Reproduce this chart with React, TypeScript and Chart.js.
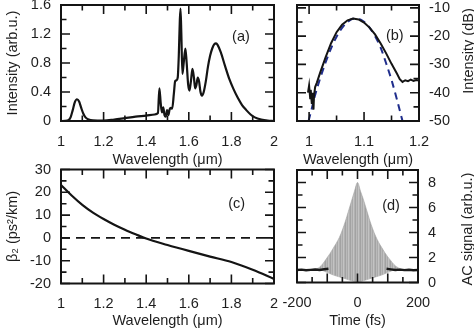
import React, { useEffect, useRef } from "react";
import { Chart, registerables } from "chart.js";

Chart.register(...registerables);

const PAGE_W = 474;
const PAGE_H = 329;
const FONT_FAMILY = "'Liberation Sans', Arial, Helvetica, sans-serif";
const FONT_SIZE = 14.5;
const TEXT_COLOR = "#1e1e1e";
const INK = "#141414";

// ---------------- (a) supercontinuum spectrum ----------------
const aWavelength = [
  1.0, 1.03, 1.045, 1.055, 1.065, 1.075, 1.085, 1.095, 1.105, 1.115, 1.13, 1.15, 1.2, 1.25, 1.3, 1.35, 1.4, 1.44,
  1.455, 1.462, 1.468, 1.474, 1.48, 1.486, 1.492, 1.498, 1.504, 1.51, 1.516, 1.522, 1.53, 1.536, 1.542, 1.548,
  1.553, 1.558, 1.561, 1.565, 1.57, 1.576, 1.584, 1.59, 1.597, 1.603, 1.61, 1.617, 1.624, 1.63, 1.636, 1.642,
  1.648, 1.655, 1.662, 1.67, 1.68, 1.69, 1.7, 1.71, 1.72, 1.728, 1.735, 1.75, 1.77, 1.79, 1.81, 1.83, 1.85,
  1.87, 1.89, 1.91, 1.94, 1.97, 2.0,
];
const aIntensity = [
  0, 0.005, 0.05, 0.15, 0.26, 0.3, 0.27, 0.18, 0.1, 0.05, 0.02, 0.008, 0.005, 0.02, 0.04, 0.06, 0.075, 0.09,
  0.11, 0.45, 0.25, 0.12, 0.19, 0.08, 0.06, 0.15, 0.08, 0.16, 0.18, 0.17, 0.38, 0.55, 0.56, 0.6,
  0.9, 1.4, 1.55, 1.2, 0.65, 0.8, 1.0, 0.8, 0.5, 0.42, 0.55, 0.72, 0.6, 0.45, 0.5, 0.6,
  0.55, 0.4, 0.35, 0.4, 0.55, 0.75, 0.9, 1.0, 1.06, 1.07, 1.05, 0.95, 0.76, 0.58, 0.44, 0.32, 0.22,
  0.15, 0.09, 0.05, 0.02, 0.005, 0,
];
const aXLabels = [1, 1.2, 1.4, 1.6, 1.8, 2];
const aXMinor = [1.1, 1.3, 1.5, 1.7, 1.9];
const aYLabels = [0, 0.4, 0.8, 1.2, 1.6];
const aYMinor = [0.2, 0.6, 1.0, 1.4];

// ---------------- (b) pump spectrum in dB ----------------
const bMeasWl = [
  0.998, 1.0, 1.002, 1.003, 1.005, 1.006, 1.008, 1.009, 1.011, 1.014, 1.02, 1.03, 1.04, 1.05, 1.06, 1.07, 1.08,
  1.09, 1.1, 1.11, 1.12, 1.13, 1.14, 1.15, 1.16, 1.165, 1.17, 1.175, 1.18, 1.185, 1.19, 1.195, 1.2,
];
const bMeasDb = [
  -40, -37.5, -42, -39, -44, -40, -46, -41, -38, -36.5, -33, -27.5, -22.5, -18.6, -16, -14.4, -13.8,
  -14.1, -15.2, -17, -19.4, -22.5, -26, -29.8, -33.3, -35.2, -36.2, -35.6, -35.9, -35.4, -35.8, -35.5, -35.7,
];
const bFitWl = [
  0.999, 1.005, 1.01, 1.02, 1.03, 1.04, 1.05, 1.06, 1.07, 1.08, 1.09, 1.1, 1.11, 1.12, 1.13, 1.14, 1.15, 1.16, 1.17,
];
const bFitDb = [
  -50, -45.5, -41.5, -35, -29.3, -24.3, -20.2, -17.1, -15, -13.9, -13.9, -14.9, -17, -20, -24, -29.5, -35.5, -42.5, -50,
];
const bXLabels = [1, 1.1, 1.2];
const bXMinor = [1.05, 1.15];
const bYLabels = [-50, -40, -30, -20, -10];
const bYMinor = [-45, -35, -25, -15];

// ---------------- (c) dispersion ----------------
const cWl = [1.0, 1.05, 1.1, 1.15, 1.2, 1.25, 1.3, 1.35, 1.4, 1.5, 1.6, 1.7, 1.8, 1.9, 2.0];
const cBeta2 = [23.2, 18.6, 14.5, 11.1, 8.3, 5.8, 3.6, 1.6, -0.3, -3.1, -5.7, -8.2, -10.6, -14.0, -18.0];
const cZeroWl = [1, 2];
const cZeroBeta = [0, 0];
const cXLabels = [1, 1.2, 1.4, 1.6, 1.8, 2];
const cXMinor = [1.1, 1.3, 1.5, 1.7, 1.9];
const cYLabels = [-20, -10, 0, 10, 20, 30];
const cYMinor = [-15, -5, 5, 15, 25];

// ---------------- (d) autocorrelation ----------------
const dTime = [
  -200, -180, -160, -140, -130, -120, -110, -100, -90, -80, -70, -60, -50, -40, -30, -20, -10, 0,
  10, 20, 30, 40, 50, 60, 70, 80, 90, 100, 110, 120, 130, 140, 160, 180, 200,
];
const dUpper = [
  1.0, 1.0, 1.02, 1.08, 1.15, 1.35, 1.65, 2.0, 2.35, 2.75, 3.15, 3.6, 4.2, 4.9, 5.7, 6.5, 7.3, 8.0,
  7.3, 6.6, 5.8, 5.0, 4.3, 3.7, 3.2, 2.8, 2.4, 2.05, 1.75, 1.45, 1.25, 1.12, 1.04, 1.0, 1.0,
];
const dLower = [
  1.0, 1.0, 1.0, 1.0, 1.0, 1.0, 0.9, 0.8, 0.7, 0.6, 0.52, 0.45, 0.37, 0.3, 0.22, 0.15, 0.08, 0.04,
  0.08, 0.15, 0.22, 0.3, 0.37, 0.45, 0.52, 0.6, 0.7, 0.8, 0.9, 1.0, 1.0, 1.0, 1.0, 1.0, 1.0,
];
const dBaseTime = [-200, -185, -170, -155, -140, -125, -110, -96, -95, 95, 96, 110, 125, 140, 155, 170, 185, 200];
const dBase = [1.0, 1.03, 0.98, 1.01, 1.04, 1.0, 1.06, 1.1, null, null, 1.1, 1.05, 1.0, 1.03, 0.99, 1.02, 0.98, 1.0];
const dXLabels = [-200, 0, 200];
const dXMajor = [-200, -100, 0, 100, 200];
const dXMinor = [-150, -50, 50, 150];
const dYLabels = [0, 2, 4, 6, 8];
const dYMinor = [1, 3, 5, 7];

// ---------------- helpers ----------------
const pts = (xs: number[], ys: (number | null)[]) => xs.map((x, i) => ({ x, y: ys[i] }));

const tickFont = { family: FONT_FAMILY, size: FONT_SIZE };
const titleFont = { family: FONT_FAMILY, size: FONT_SIZE, lineHeight: 1 };

type AxisOpts = {
  position: "left" | "right" | "bottom";
  min: number;
  max: number;
  labels: number[];
  size: number;
  padding: number;
  title?: string;
};

function axis(o: AxisOpts) {
  const horizontal = o.position === "bottom";
  return {
    type: "linear" as const,
    position: o.position,
    min: o.min,
    max: o.max,
    grid: { display: false, drawTicks: false },
    border: { display: false },
    ticks: {
      font: tickFont,
      color: TEXT_COLOR,
      padding: o.padding,
      autoSkip: false,
      maxRotation: 0,
      minRotation: 0,
      callback: (v: any) => String(v),
    },
    title: o.title
      ? { display: true, text: o.title, font: titleFont, color: TEXT_COLOR, padding: 0 }
      : { display: false },
    afterBuildTicks: (s: any) => {
      s.ticks = o.labels.map((v) => ({ value: v }));
    },
    afterFit: (s: any) => {
      if (horizontal) s.height = o.size;
      else s.width = o.size;
      s.paddingLeft = 0;
      s.paddingRight = 0;
      s.paddingTop = 0;
      s.paddingBottom = 0;
    },
  };
}

type FrameSpec = {
  id: string;
  xMajor: number[];
  xMinor: number[];
  yMajor: number[];
  yMinor: number[];
  label: string;
  labelAt: [number, number];
  rightTitle?: string;
  rightTitleY?: number;
};

function framePlugin(spec: FrameSpec) {
  return {
    id: "frame_" + spec.id,
    afterDatasetsDraw(chart: any) {
      const { ctx, chartArea: a, scales } = chart;
      const xs = scales.x;
      const ys = scales.y;
      const MAJ = 9;
      const MIN = 5.5;
      ctx.save();
      ctx.strokeStyle = INK;
      ctx.lineWidth = 1.6;
      ctx.beginPath();
      const xt = (vals: number[], len: number) => {
        for (const v of vals) {
          const px = xs.getPixelForValue(v);
          ctx.moveTo(px, a.bottom);
          ctx.lineTo(px, a.bottom - len);
          ctx.moveTo(px, a.top);
          ctx.lineTo(px, a.top + len);
        }
      };
      const yt = (vals: number[], len: number) => {
        for (const v of vals) {
          const py = ys.getPixelForValue(v);
          ctx.moveTo(a.left, py);
          ctx.lineTo(a.left + len, py);
          ctx.moveTo(a.right, py);
          ctx.lineTo(a.right - len, py);
        }
      };
      xt(spec.xMajor, MAJ);
      xt(spec.xMinor, MIN);
      yt(spec.yMajor, MAJ);
      yt(spec.yMinor, MIN);
      ctx.stroke();
      ctx.lineWidth = 2;
      ctx.strokeRect(a.left, a.top, a.right - a.left, a.bottom - a.top);

      ctx.fillStyle = TEXT_COLOR;
      ctx.font = `${FONT_SIZE}px ${FONT_FAMILY}`;
      ctx.textAlign = "center";
      ctx.textBaseline = "middle";
      ctx.fillText(spec.label, xs.getPixelForValue(spec.labelAt[0]), ys.getPixelForValue(spec.labelAt[1]));

      if (spec.rightTitle) {
        ctx.translate(a.right + 50, spec.rightTitleY ?? (a.top + a.bottom) / 2);
        ctx.rotate(-Math.PI / 2);
        ctx.fillText(spec.rightTitle, 0, 0);
      }
      ctx.restore();
    },
  };
}

function baseOptions(padding: { left: number; top: number; right: number; bottom: number }) {
  return {
    responsive: false,
    maintainAspectRatio: false,
    animation: false as const,
    devicePixelRatio: 1,
    events: [] as any[],
    layout: { padding },
    plugins: { legend: { display: false }, tooltip: { enabled: false } },
    elements: { point: { radius: 0 } },
  };
}

function fringePattern(canvas: HTMLCanvasElement): any {
  const c = document.createElement("canvas");
  c.width = 5;
  c.height = 1;
  const g = c.getContext("2d");
  const target = canvas.getContext("2d");
  if (!g || !target) return "#b0b0b0";
  ["#a2a2a2", "#bababa", "#aaaaaa", "#c3c3c3", "#b1b1b1"].forEach((col, i) => {
    g.fillStyle = col;
    g.fillRect(i, 0, 1, 1);
  });
  return target.createPattern(c, "repeat") ?? "#b0b0b0";
}

export default function App() {
  const refA = useRef<HTMLCanvasElement>(null);
  const refB = useRef<HTMLCanvasElement>(null);
  const refC = useRef<HTMLCanvasElement>(null);
  const refD = useRef<HTMLCanvasElement>(null);

  useEffect(() => {
    const charts: Chart[] = [];

    // (a)
    charts.push(
      new Chart(refA.current!, {
        type: "line",
        data: {
          datasets: [
            {
              data: pts(aWavelength, aIntensity),
              borderColor: INK,
              borderWidth: 2.2,
              cubicInterpolationMode: "monotone",
              pointRadius: 0,
            },
          ],
        },
        options: {
          ...baseOptions({ left: 5.4, top: 5, right: 200, bottom: 161.75 }),
          scales: {
            x: axis({ position: "bottom", min: 1, max: 2, labels: aXLabels, size: 46.25, padding: 12, title: "Wavelength (μm)" }),
            y: axis({ position: "left", min: 0, max: 1.6, labels: aYLabels, size: 55.6, padding: 10, title: "Intensity (arb.u.)" }),
          },
        } as any,
        plugins: [
          framePlugin({ id: "a", xMajor: aXLabels, xMinor: aXMinor, yMajor: aYLabels, yMinor: aYMinor, label: "(a)", labelAt: [1.845, 1.165] }),
        ],
      })
    );

    // (b)
    charts.push(
      new Chart(refB.current!, {
        type: "line",
        data: {
          datasets: [
            {
              data: pts(bMeasWl, bMeasDb),
              borderColor: INK,
              borderWidth: 2,
              tension: 0,
              pointRadius: 0,
            },
            {
              data: pts(bFitWl, bFitDb),
              borderColor: "#1f2d8c",
              borderWidth: 2,
              borderDash: [7, 5],
              cubicInterpolationMode: "monotone",
              pointRadius: 0,
            },
          ],
        },
        options: {
          ...baseOptions({ left: 297, top: 5, right: 0, bottom: 161.75 }),
          scales: {
            x: axis({ position: "bottom", min: 0.978, max: 1.2, labels: bXLabels, size: 46.25, padding: 12, title: "Wavelength (μm)" }),
            y: axis({ position: "right", min: -50, max: -9, labels: bYLabels, size: 55, padding: 10 }),
          },
        } as any,
        plugins: [
          framePlugin({
            id: "b",
            xMajor: bXLabels,
            xMinor: bXMinor,
            yMajor: bYLabels,
            yMinor: bYMinor,
            label: "(b)",
            labelAt: [1.156, -20.1],
            rightTitle: "Intensity (dB)",
            rightTitleY: 51,
          }),
        ],
      })
    );

    // (c)
    charts.push(
      new Chart(refC.current!, {
        type: "line",
        data: {
          datasets: [
            {
              data: pts(cWl, cBeta2),
              borderColor: INK,
              borderWidth: 2.2,
              cubicInterpolationMode: "monotone",
              pointRadius: 0,
            },
            {
              data: pts(cZeroWl, cZeroBeta),
              borderColor: INK,
              borderWidth: 1.8,
              borderDash: [9, 6],
              pointRadius: 0,
            },
          ],
        },
        options: {
          ...baseOptions({ left: 5.4, top: 169.5, right: 200, bottom: 0.75 }),
          scales: {
            x: axis({ position: "bottom", min: 1, max: 2, labels: cXLabels, size: 44.75, padding: 11.5, title: "Wavelength (μm)" }),
            y: axis({ position: "left", min: -20, max: 30, labels: cYLabels, size: 55.6, padding: 10, title: "β₂ (ps²/km)" }),
          },
        } as any,
        plugins: [
          framePlugin({ id: "c", xMajor: cXLabels, xMinor: cXMinor, yMajor: cYLabels, yMinor: cYMinor, label: "(c)", labelAt: [1.825, 14.9] }),
        ],
      })
    );

    // (d)
    const fill = fringePattern(refD.current!);
    charts.push(
      new Chart(refD.current!, {
        type: "line",
        data: {
          datasets: [
            {
              data: pts(dBaseTime, dBase),
              borderColor: "#1a1a1a",
              borderWidth: 2.4,
              tension: 0,
              pointRadius: 0,
              spanGaps: false,
            },
            {
              data: pts(dTime, dUpper),
              borderColor: "#a0a0a0",
              borderWidth: 0.6,
              cubicInterpolationMode: "monotone",
              pointRadius: 0,
              fill: "+1",
              backgroundColor: fill,
            },
            {
              data: pts(dTime, dLower),
              borderColor: "#a8a8a8",
              borderWidth: 0.6,
              cubicInterpolationMode: "monotone",
              pointRadius: 0,
              fill: false,
            },
          ],
        },
        options: {
          ...baseOptions({ left: 297, top: 170, right: 0, bottom: 0.75 }),
          scales: {
            x: axis({ position: "bottom", min: -200, max: 200, labels: dXLabels, size: 45.75, padding: 11.5, title: "Time (fs)" }),
            y: axis({ position: "right", min: 0, max: 9, labels: dYLabels, size: 56, padding: 10 }),
          },
        } as any,
        plugins: [
          framePlugin({
            id: "d",
            xMajor: dXMajor,
            xMinor: dXMinor,
            yMajor: dYLabels,
            yMinor: dYMinor,
            label: "(d)",
            labelAt: [110.7, 6.12],
            rightTitle: "AC signal (arb.u.)",
            rightTitleY: 229,
          }),
        ],
      })
    );

    return () => charts.forEach((c) => c.destroy());
  }, []);

  const canvasStyle: React.CSSProperties = {
    position: "absolute",
    left: 0,
    top: 0,
    width: PAGE_W,
    height: PAGE_H,
    display: "block",
  };

  return (
    <div
      style={{
        position: "fixed",
        left: 0,
        top: 0,
        width: PAGE_W,
        height: PAGE_H,
        background: "#ffffff",
        overflow: "hidden",
      }}
    >
      <canvas ref={refA} width={PAGE_W} height={PAGE_H} style={canvasStyle} />
      <canvas ref={refB} width={PAGE_W} height={PAGE_H} style={canvasStyle} />
      <canvas ref={refC} width={PAGE_W} height={PAGE_H} style={canvasStyle} />
      <canvas ref={refD} width={PAGE_W} height={PAGE_H} style={canvasStyle} />
    </div>
  );
}
